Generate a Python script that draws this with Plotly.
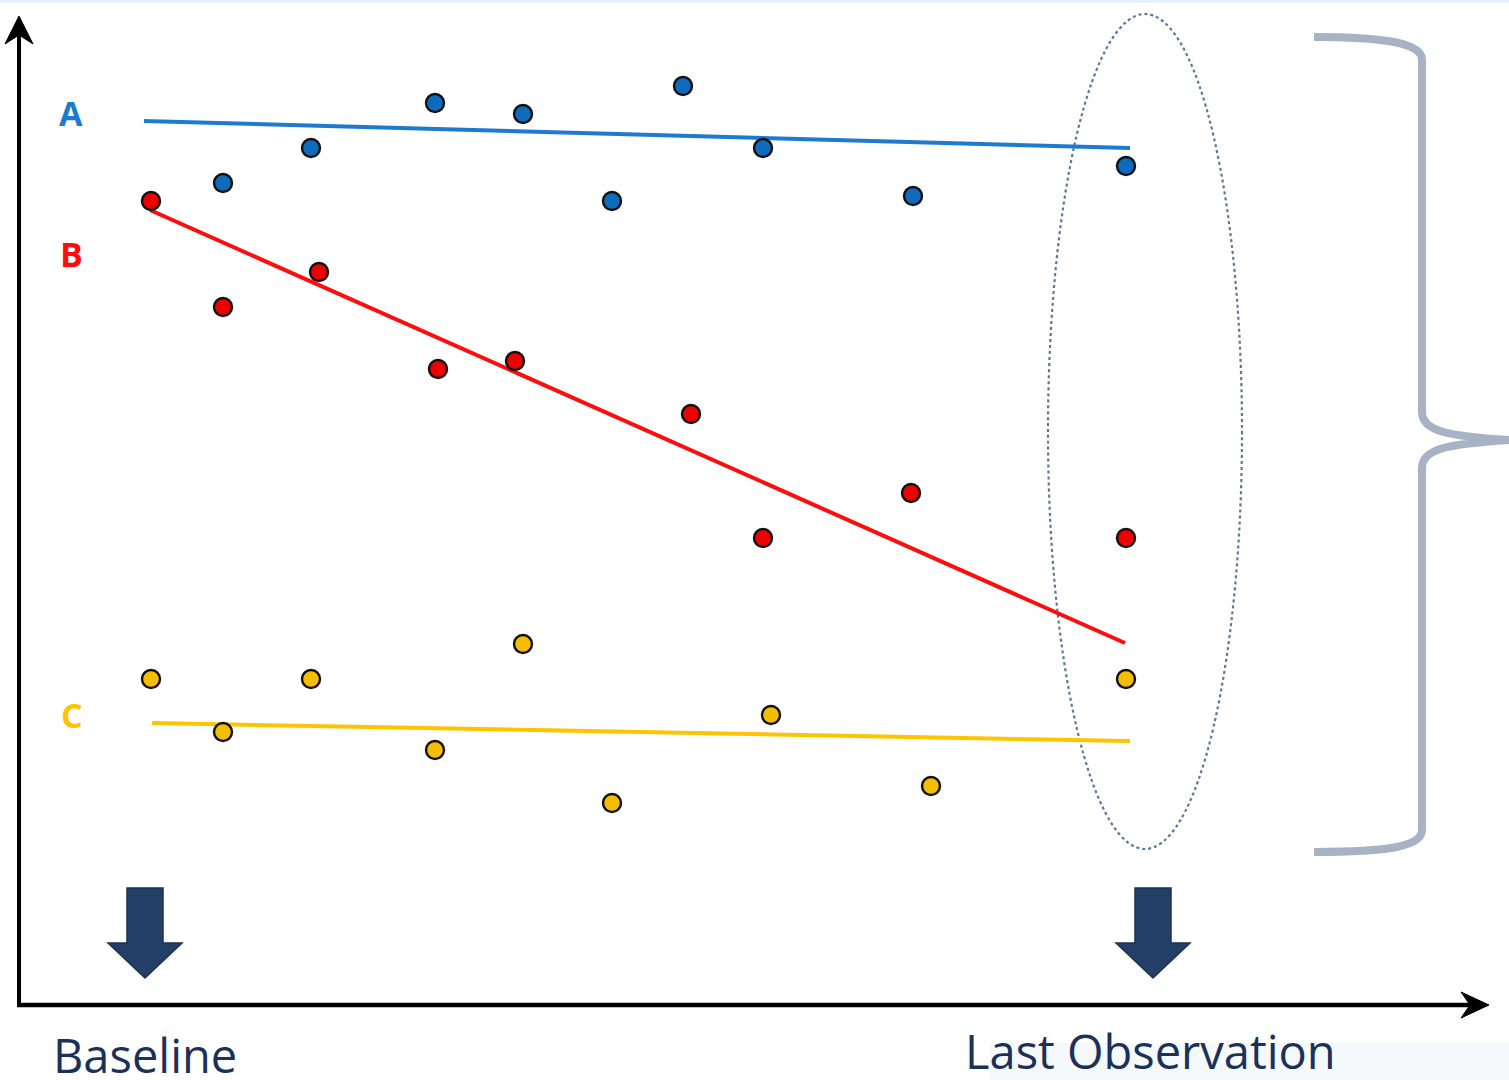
import plotly.graph_objects as go

# ---- data (pixel-space units) ----
a_x = [223, 311, 435, 523, 612, 683, 763, 913, 1126]
a_y = [183, 148, 103, 114, 201, 86, 148, 196, 166]
b_x = [151, 223, 319, 438, 515, 691, 763, 911, 1126]
b_y = [201, 307, 272, 369, 361, 414, 538, 493, 538]
c_x = [151, 223, 311, 435, 523, 612, 771, 931, 1126]
c_y = [679, 732, 679, 750, 644, 803, 715, 786, 679]

a_trend_x = [144, 1130]
a_trend_y = [121, 148]
b_trend_x = [150, 1125]
b_trend_y = [210, 643]
c_trend_x = [152, 1130]
c_trend_y = [723, 741]

series_labels = ["A", "B", "C"]
label_x = [71, 71, 72]
label_y = [113, 254, 715]

x_labels = ["Baseline", "Last Observation"]
x_label_pos = [51, 963]
x_label_y = [1055, 1051]

BLUE_LINE, BLUE_DOT = "#1c7bd0", "#0f6cbd"
RED_LINE, RED_DOT = "#ff0d0d", "#ee0000"
YEL_LINE, YEL_DOT = "#ffc400", "#f5bd00"
NAVY = "#243f66"

fig = go.Figure()

for tx, ty, col in [(a_trend_x, a_trend_y, BLUE_LINE),
                    (b_trend_x, b_trend_y, RED_LINE),
                    (c_trend_x, c_trend_y, YEL_LINE)]:
    fig.add_trace(go.Scatter(x=tx, y=ty, mode="lines",
                             line=dict(color=col, width=4), hoverinfo="skip",
                             showlegend=False))

for xs, ys, col in [(a_x, a_y, BLUE_DOT), (b_x, b_y, RED_DOT), (c_x, c_y, YEL_DOT)]:
    fig.add_trace(go.Scatter(x=xs, y=ys, mode="markers",
                             marker=dict(size=18, color=col,
                                         line=dict(color="#111111", width=2.4)),
                             showlegend=False))

shapes = []
# faint band top and faint box bottom-right
shapes.append(dict(type="rect", x0=0, x1=1509, y0=0, y1=3, line=dict(width=0),
                   fillcolor="#e8f2fb", layer="below"))
shapes.append(dict(type="rect", x0=990, x1=1509, y0=1043, y1=1080, line=dict(width=0),
                   fillcolor="#f5f9fc", layer="below"))
# axes
shapes.append(dict(type="line", x0=19, x1=19, y0=1006, y1=28,
                   line=dict(color="black", width=4)))
shapes.append(dict(type="path", path="M19,16 L33,44 L19,35 L5,44 Z",
                   fillcolor="black", line=dict(color="black", width=1)))
shapes.append(dict(type="line", x0=17, x1=1478, y0=1005, y1=1005,
                   line=dict(color="black", width=4.5)))
shapes.append(dict(type="path", path="M1489,1005 L1461,992 L1470,1005 L1461,1018 Z",
                   fillcolor="black", line=dict(color="black", width=1)))
# dotted ellipse
shapes.append(dict(type="circle", x0=1048, x1=1242, y0=14, y1=849,
                   line=dict(color="#5b779c", width=2.2, dash="dot"), layer="below"))
# curly bracket
shapes.append(dict(type="path",
                   path=("M1314,37 C1390,37 1422,44 1422,60 L1422,412 "
                         "C1422,432 1450,436 1509,440 "
                         "C1450,444 1422,448 1422,468 L1422,830 "
                         "C1422,846 1390,852 1314,852"),
                   line=dict(color="#a7b3c4", width=8)))
# down arrows
for cx in [145, 1153]:
    p = (f"M{cx-18},888 L{cx+18},888 L{cx+18},943 L{cx+37},943 "
         f"L{cx},978 L{cx-37},943 L{cx-18},943 Z")
    shapes.append(dict(type="path", path=p, fillcolor=NAVY,
                       line=dict(color="#1b3158", width=1.5)))

annotations = []
for lab, lx, ly, col in zip(series_labels, label_x, label_y, [BLUE_LINE, RED_LINE, YEL_LINE]):
    annotations.append(dict(x=lx, y=ly, text=f"<b>{lab}</b>", showarrow=False,
                            xanchor="center", yanchor="middle",
                            font=dict(family="Open Sans", size=34, color=col)))
for txt, lx, ly in zip(x_labels, x_label_pos, x_label_y):
    annotations.append(dict(x=lx, y=ly, text=txt,
                            showarrow=False, xanchor="left", yanchor="middle",
                            font=dict(family="Open Sans", size=47, color="#1b3157")))

fig.update_layout(
    width=1509, height=1080,
    margin=dict(l=0, r=0, t=0, b=0),
    paper_bgcolor="white", plot_bgcolor="white",
    xaxis=dict(range=[0, 1509], visible=False, fixedrange=True),
    yaxis=dict(range=[1080, 0], visible=False, fixedrange=True),
    shapes=shapes, annotations=annotations,
    showlegend=False,
)

fig.write_html("out.html", config={"displayModeBar": False},
               post_script="document.body.style.margin='0';document.body.style.overflow='hidden';")
